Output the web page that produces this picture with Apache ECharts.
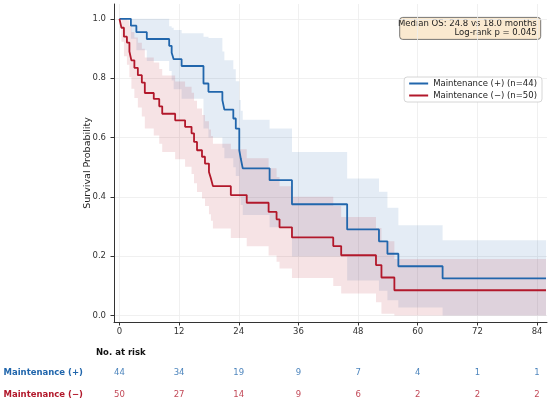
<!DOCTYPE html>
<html lang="en">
<head>
<meta charset="UTF-8">
<title>Overall survival by maintenance</title>
<script src="https://cdn.jsdelivr.net/npm/echarts@6/dist/echarts.min.js"></script>
<style>
  html, body { margin: 0; padding: 0; background: #fff; }
</style>
</head>
<body>
<div id="main" style="width:550px;height:405px;"></div>
<script>
// Kaplan-Meier steps (months, survival)
var timePlus = [0, 2.3, 3.4, 5.5, 10.0, 10.5, 10.9, 12.5, 16.9, 17.9, 20.7, 21.1, 22.9, 23.4, 24.1, 24.4, 24.8, 30.2, 34.7, 45.8, 52.2, 53.9, 56.1, 65.0, 85.8];
var survPlus = [1.0, 0.977, 0.955, 0.932, 0.909, 0.886, 0.864, 0.841, 0.782, 0.754, 0.726, 0.694, 0.664, 0.630, 0.557, 0.529, 0.496, 0.456, 0.375, 0.290, 0.250, 0.208, 0.166, 0.125, 0.125];
var lowPlus  = [1.0, 0.933, 0.894, 0.858, 0.824, 0.792, 0.763, 0.731, 0.630, 0.600, 0.565, 0.530, 0.500, 0.470, 0.400, 0.372, 0.339, 0.297, 0.199, 0.118, 0.083, 0.051, 0.027, 0.0, 0.0];
var upPlus   = [1.0, 1.0, 1.0, 1.0, 0.975, 0.970, 0.962, 0.951, 0.940, 0.935, 0.890, 0.860, 0.830, 0.790, 0.726, 0.690, 0.660, 0.630, 0.551, 0.462, 0.417, 0.363, 0.304, 0.254, 0.254];

var timeMinus = [0, 0.4, 0.9, 1.5, 2.0, 2.4, 3.0, 3.7, 4.5, 5.1, 6.9, 8.0, 8.6, 11.2, 13.2, 14.5, 15.0, 15.6, 16.6, 17.2, 18.0, 18.4, 18.8, 22.4, 25.6, 30.0, 31.6, 32.2, 34.7, 43.0, 44.6, 51.6, 52.7, 55.3, 85.8];
var survMinus = [1.0, 0.97, 0.94, 0.92, 0.89, 0.86, 0.835, 0.81, 0.785, 0.75, 0.73, 0.705, 0.68, 0.658, 0.636, 0.614, 0.585, 0.557, 0.535, 0.512, 0.484, 0.462, 0.436, 0.406, 0.380, 0.349, 0.324, 0.297, 0.263, 0.234, 0.203, 0.170, 0.128, 0.085, 0.085];
var lowMinus  = [1.0, 0.923, 0.874, 0.845, 0.803, 0.764, 0.733, 0.701, 0.671, 0.630, 0.607, 0.579, 0.551, 0.527, 0.501, 0.477, 0.446, 0.416, 0.394, 0.369, 0.341, 0.319, 0.293, 0.261, 0.233, 0.202, 0.181, 0.158, 0.126, 0.099, 0.074, 0.045, 0.006, 0.0, 0.0];
var upMinus   = [1.0, 1.0, 1.0, 0.995, 0.977, 0.956, 0.937, 0.919, 0.899, 0.870, 0.853, 0.831, 0.809, 0.789, 0.771, 0.751, 0.724, 0.698, 0.676, 0.655, 0.627, 0.605, 0.579, 0.560, 0.530, 0.496, 0.467, 0.436, 0.400, 0.369, 0.332, 0.295, 0.250, 0.190, 0.190];

// number at risk table
var riskMonths = [0, 12, 24, 36, 48, 60, 72, 84];
var riskPlus   = [44, 34, 19, 9, 7, 4, 1, 1];
var riskMinus  = [50, 27, 14, 9, 6, 2, 2, 2];

var xTicks = [0, 12, 24, 36, 48, 60, 72, 84];
var yTicks = [0, 0.2, 0.4, 0.6, 0.8, 1.0];

var namePlus = 'Maintenance (+) (n=44)';
var nameMinus = 'Maintenance (\u2212) (n=50)';
var rowPlus = 'Maintenance (+)';
var rowMinus = 'Maintenance (\u2212)';

var BLUE = '#2166ac';
var RED = '#b2182b';
var FONT = 'DejaVu Sans';

function pairs(xs, ys) {
  return xs.map(function (x, i) { return [x, ys[i]]; });
}
function riskRow(vals, row) {
  return riskMonths.map(function (m, i) { return [m, row, vals[i]]; });
}

// confidence band as one step-shaped polygon, placed with the axis scales
function band(xs, lo, hi, color) {
  var rows = xs.slice(0, -1).map(function (t, i) { return [t, xs[i + 1], lo[i], hi[i]]; });
  return {
    type: 'custom', xAxisIndex: 0, yAxisIndex: 0, data: rows, silent: true, z: 1,
    encode: { x: [0, 1], y: [2, 3] },
    renderItem: function (params, api) {
      if (params.dataIndex !== 0) return null;
      var top = [], bot = [];
      rows.forEach(function (r) {
        top.push(api.coord([r[0], r[3]]), api.coord([r[1], r[3]]));
        bot.push(api.coord([r[0], r[2]]), api.coord([r[1], r[2]]));
      });
      return { type: 'polygon', shape: { points: top.concat(bot.reverse()) }, style: { fill: color } };
    }
  };
}

var myChart = echarts.init(document.getElementById('main'));

var series = [
  band(timePlus, lowPlus, upPlus, 'rgba(33,102,172,0.12)'),
  band(timeMinus, lowMinus, upMinus, 'rgba(178,24,43,0.12)'),
  {
    name: namePlus, type: 'line', step: 'end', data: pairs(timePlus, survPlus),
    symbol: 'none', z: 3, color: BLUE, lineStyle: { color: BLUE, width: 1.8 }
  }, {
    name: nameMinus, type: 'line', step: 'end', data: pairs(timeMinus, survMinus),
    symbol: 'none', z: 3, color: RED, lineStyle: { color: RED, width: 1.8 }
  }, {
    type: 'scatter', xAxisIndex: 1, yAxisIndex: 1, data: riskRow(riskPlus, rowPlus),
    symbolSize: 1, itemStyle: { color: 'transparent' }, silent: true,
    label: { show: true, position: 'inside', formatter: function (p) { return p.value[2]; },
             color: BLUE, fontSize: 8.5, fontFamily: FONT }
  }, {
    type: 'scatter', xAxisIndex: 1, yAxisIndex: 1, data: riskRow(riskMinus, rowMinus),
    symbolSize: 1, itemStyle: { color: 'transparent' }, silent: true,
    label: { show: true, position: 'inside', formatter: function (p) { return p.value[2]; },
             color: RED, fontSize: 8.5, fontFamily: FONT }
  }
];

var option = {
  animation: false,
  backgroundColor: '#fff',
  textStyle: { fontFamily: FONT },
  grid: [
    { left: 114, right: 3, top: 4, bottom: 83 },
    { left: 114, right: 3, top: 362.5, height: 46 }
  ],
  legend: {
    data: [namePlus, nameMinus],
    orient: 'vertical', right: 8, top: 77,
    icon: 'rect', itemWidth: 19, itemHeight: 2, itemGap: 3,
    padding: [2, 5, 2, 5],
    backgroundColor: '#fff', borderColor: '#cccccc', borderWidth: 0.8, borderRadius: 3,
    textStyle: { fontSize: 8.5, color: '#222', fontFamily: FONT }
  },
  xAxis: [{
    type: 'value', gridIndex: 0, min: -1.1, max: 86,
    axisLine: { onZero: false, lineStyle: { color: '#333', width: 1 } },
    axisTick: { show: true, length: 3.5, customValues: xTicks, lineStyle: { color: '#333' } },
    axisLabel: { customValues: xTicks, fontSize: 8.5, color: '#333', margin: 5, fontFamily: FONT },
    splitLine: { show: true, lineStyle: { color: '#ececec', width: 0.8 } }
  }, {
    type: 'value', gridIndex: 1, min: -1.1, max: 86, show: false
  }],
  yAxis: [{
    type: 'value', gridIndex: 0, min: -0.022, max: 1.05,
    name: 'Survival Probability', nameLocation: 'middle', nameGap: 21, nameMoveOverlap: false,
    nameTextStyle: { fontSize: 9.5, color: '#222', fontFamily: FONT },
    axisLine: { show: true, onZero: false, lineStyle: { color: '#333', width: 1 } },
    axisTick: { show: true, length: 3.5, customValues: yTicks, lineStyle: { color: '#333' } },
    axisLabel: { customValues: yTicks, fontSize: 8.5, color: '#333', margin: 8, fontFamily: FONT,
                 formatter: function (v) { return v.toFixed(1); } },
    splitLine: { show: true, lineStyle: { color: '#ececec', width: 0.8 } }
  }, {
    type: 'category', gridIndex: 1, inverse: true, data: [rowPlus, rowMinus],
    axisLine: { show: false }, axisTick: { show: false }, splitLine: { show: false },
    axisLabel: {
      align: 'left', margin: 110.5, fontSize: 8.5, fontWeight: 'bold', fontFamily: FONT,
      formatter: function (v) { return (v === rowPlus ? '{p|' : '{m|') + v + '}'; },
      rich: {
        p: { color: BLUE, fontWeight: 'bold', fontSize: 8.5, fontFamily: FONT },
        m: { color: RED, fontWeight: 'bold', fontSize: 8.5, fontFamily: FONT }
      }
    }
  }],
  graphic: [{
    type: 'group', left: 398, top: 17, z: 100,
    children: [{
      type: 'rect', shape: { x: 0, y: 0, width: 141, height: 22, r: 3 },
      style: { fill: '#fae9cf', stroke: '#555', lineWidth: 0.8 }
    }, {
      type: 'text', x: 137, y: 6.5,
      style: { text: 'Median OS: 24.8 vs 18.0 months', align: 'right', verticalAlign: 'middle',
               fontSize: 8.5, fill: '#222', fontFamily: FONT }
    }, {
      type: 'text', x: 137, y: 15.5,
      style: { text: 'Log-rank p = 0.045', align: 'right', verticalAlign: 'middle',
               fontSize: 8.5, fill: '#222', fontFamily: FONT }
    }]
  }, {
    type: 'text', left: 96, top: 348, z: 100,
    style: { text: 'No. at risk', fontSize: 8.5, fontWeight: 'bold', fill: '#111', fontFamily: FONT }
  }],
  series: series
};

myChart.setOption(option);
</script>
</body>
</html>
